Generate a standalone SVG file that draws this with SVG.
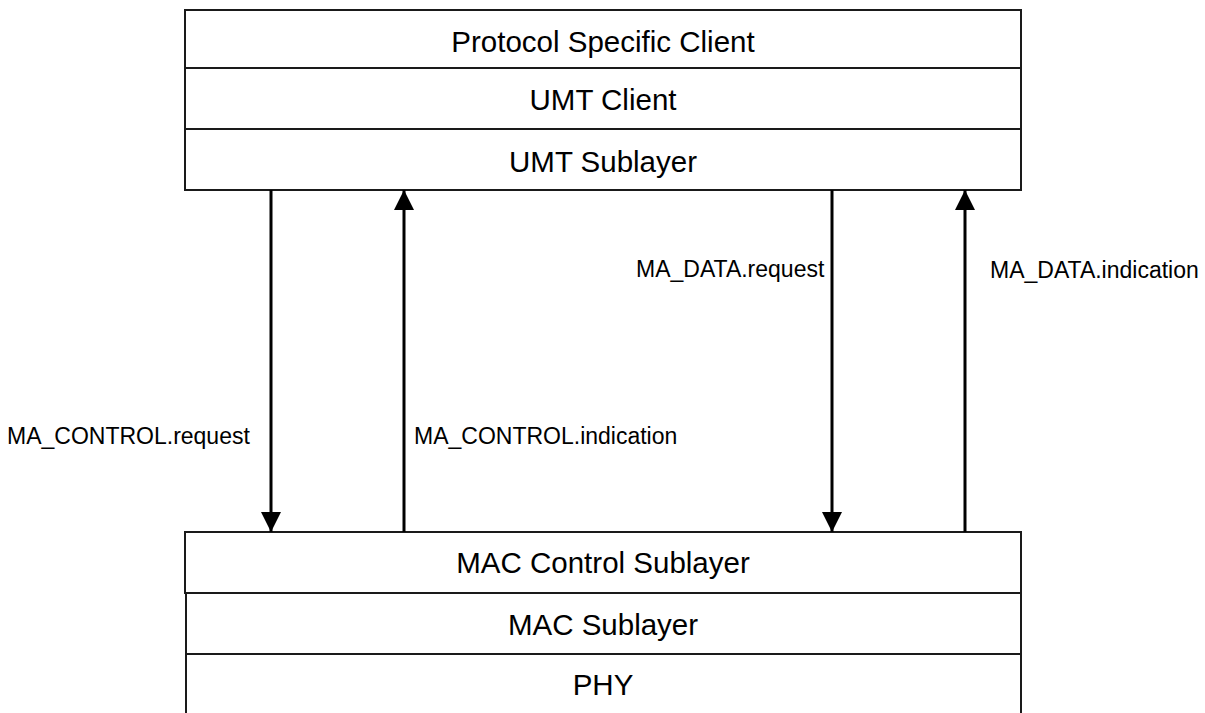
<svg xmlns="http://www.w3.org/2000/svg" width="1205" height="713" viewBox="0 0 1205 713">
<style>
.box{fill:#fff;stroke:#1a1a1a;stroke-width:2}
.t{font-family:"Liberation Sans",Arial,sans-serif;font-size:29.5px;fill:#000;text-anchor:middle}
.l{font-family:"Liberation Sans",Arial,sans-serif;font-size:23px;fill:#000}
.c{stroke:#000;stroke-width:3;fill:none}
</style>
<defs>
<marker id="ah" viewBox="0 0 20 20" refX="20" refY="10" markerWidth="20" markerHeight="20" markerUnits="userSpaceOnUse" orient="auto">
<path d="M0,0 L20,10 L0,20 Z" fill="#000"/>
</marker>
</defs>
<rect width="1205" height="713" fill="#fff"/>
<g id="protocol-specific-client"><rect class="box" x="185" y="10" width="836" height="58"/><text class="t" x="603" y="52">Protocol Specific Client</text></g>
<g id="umt-client"><rect class="box" x="185" y="68" width="836" height="61"/><text class="t" x="603" y="110">UMT Client</text></g>
<g id="umt-sublayer"><rect class="box" x="185" y="129" width="836" height="61"/><text class="t" x="603" y="172">UMT Sublayer</text></g>
<g id="mac-control-sublayer"><rect class="box" x="185" y="532" width="836" height="61"/><text class="t" x="603" y="573">MAC Control Sublayer</text></g>
<g id="mac-sublayer"><rect class="box" x="186" y="593" width="835" height="61"/><text class="t" x="603" y="635">MAC Sublayer</text></g>
<g id="phy"><rect class="box" x="186" y="654" width="835" height="70"/><text class="t" x="603" y="695">PHY</text></g>
<g id="connectors">
<line class="c" x1="271" y1="190" x2="271" y2="532" marker-end="url(#ah)"/>
<line class="c" x1="404" y1="532" x2="404" y2="190" marker-end="url(#ah)"/>
<line class="c" x1="832" y1="190" x2="832" y2="532" marker-end="url(#ah)"/>
<line class="c" x1="965" y1="532" x2="965" y2="190" marker-end="url(#ah)"/>
<text class="l" x="7" y="444">MA_CONTROL.request</text>
<text class="l" x="414" y="444">MA_CONTROL.indication</text>
<text class="l" x="636" y="277">MA_DATA.request</text>
<text class="l" x="990" y="278">MA_DATA.indication</text>
</g>
</svg>
